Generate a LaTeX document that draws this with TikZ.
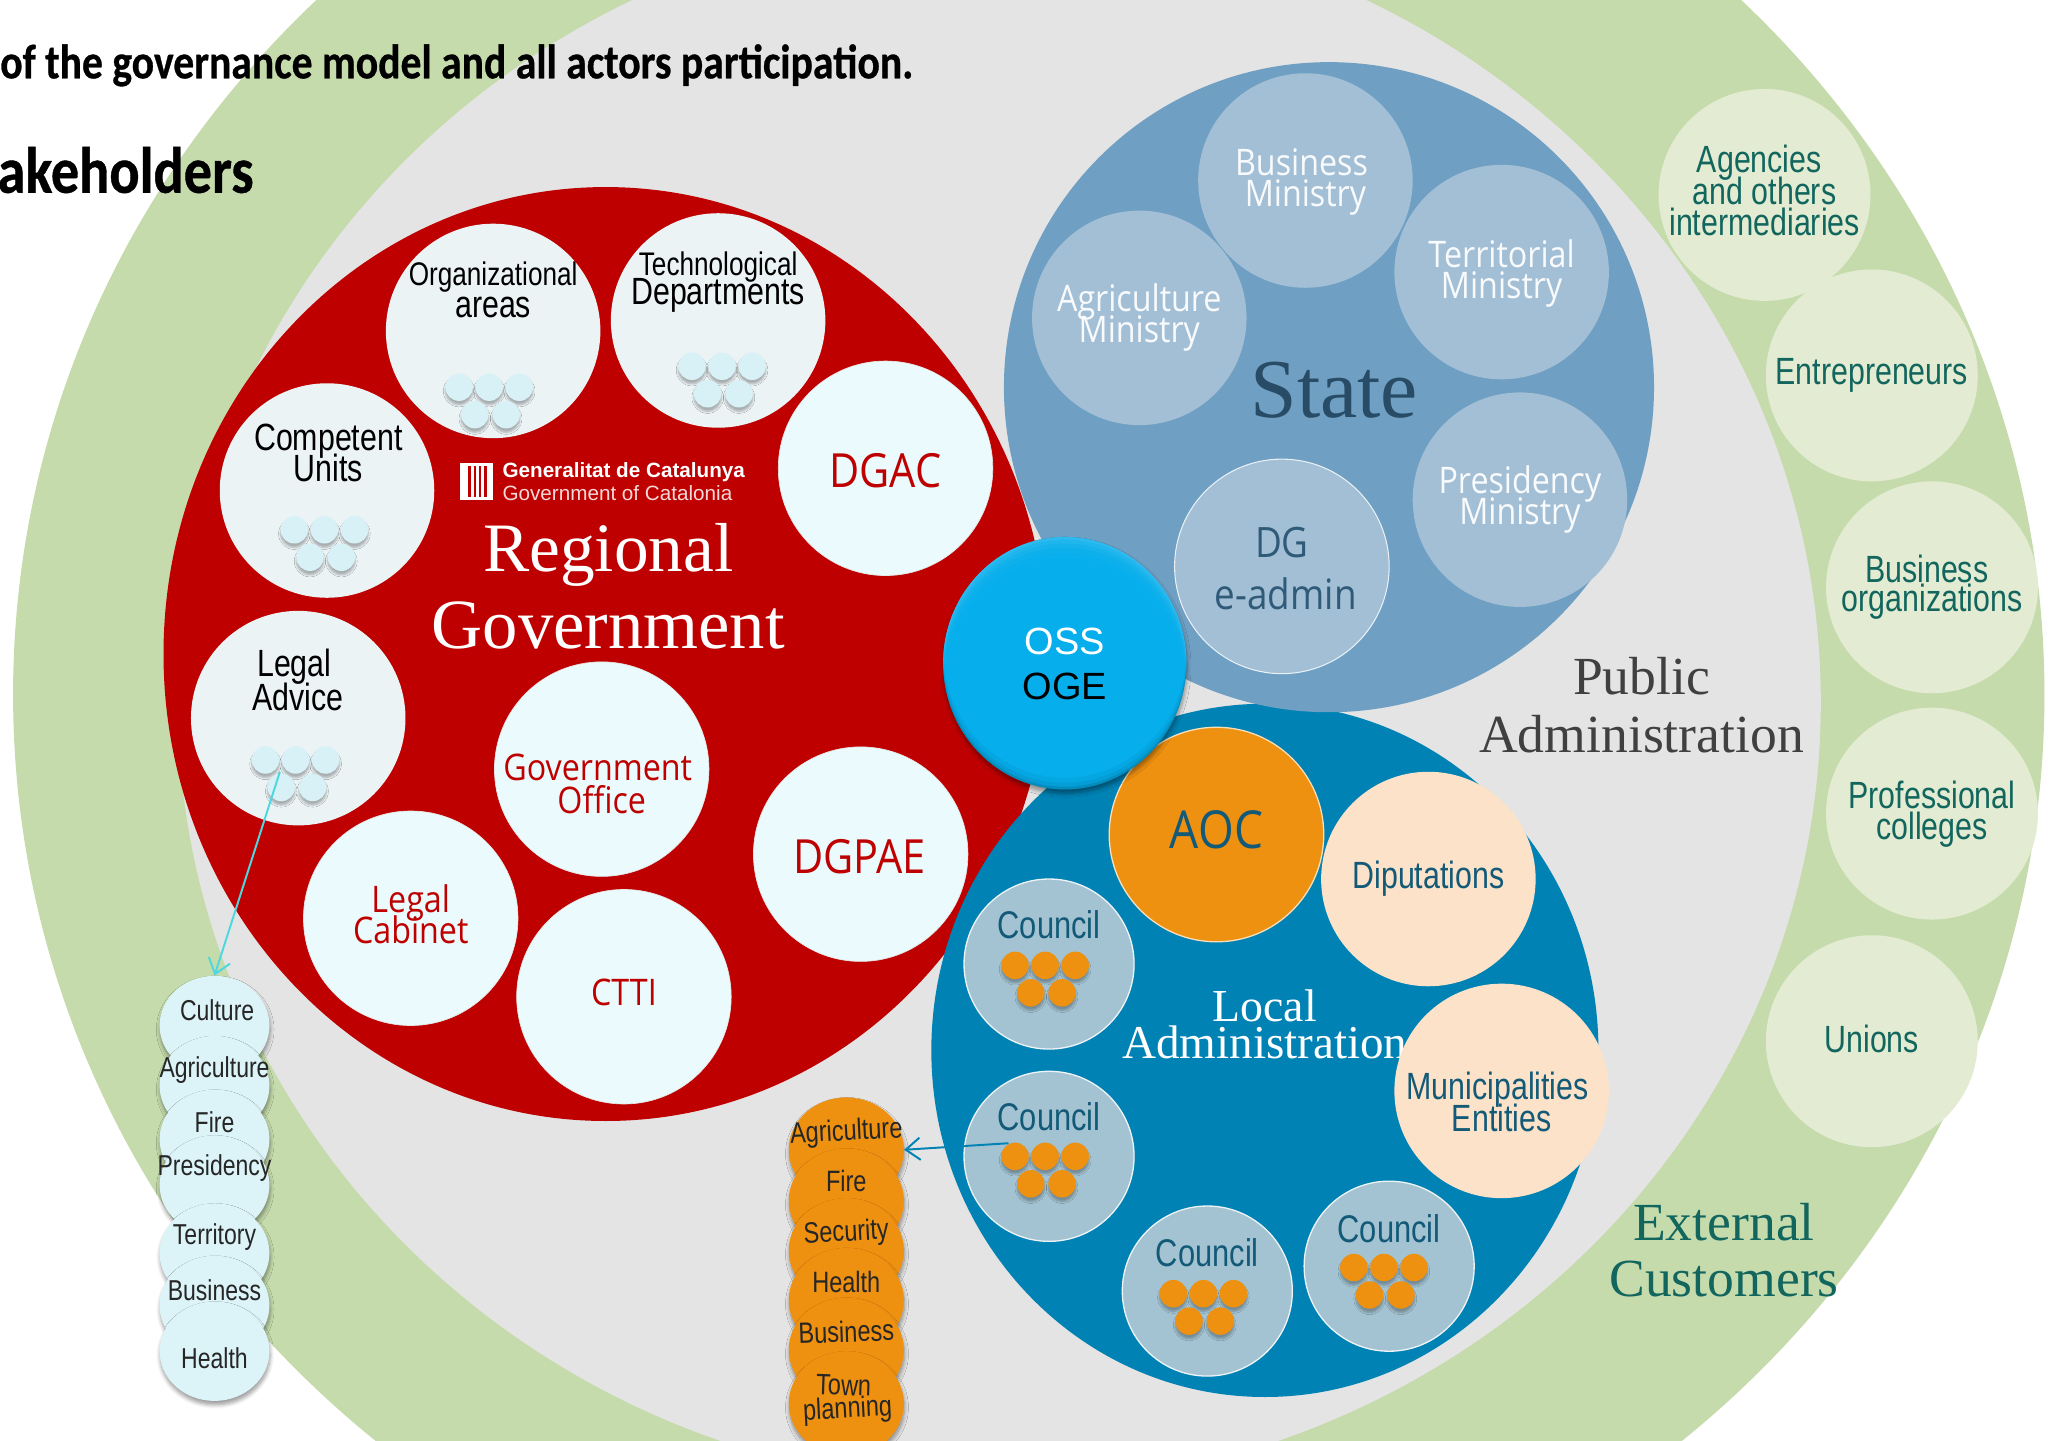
\documentclass[tikz,border=0pt]{standalone}
\usepackage{fontspec}
\usetikzlibrary{shapes.geometric,shadows,shadows.blur,arrows.meta}
\newfontfamily\nar[FakeStretch=0.8]{Liberation Sans}
\newfontfamily\plain{Liberation Sans}
\newfontfamily\opn[FakeStretch=0.88]{Open Sans}
\newfontfamily\srf{Liberation Serif}
\newfontfamily\ttl[FakeStretch=0.86,BoldFeatures={FakeBold=0.6}]{Carlito}
\newcommand\fs[1]{\fontsize{#1}{#1}\selectfont}
\definecolor{cGreen}{HTML}{C5DBAC}
\definecolor{cGreenIn}{HTML}{E3ECD2}
\definecolor{cGray}{HTML}{E4E4E4}
\definecolor{cRed}{HTML}{BF0000}
\definecolor{cPale}{HTML}{EBF3F5}
\definecolor{cIce}{HTML}{EBFAFC}
\definecolor{cState}{HTML}{6F9FC2}
\definecolor{cStateIn}{HTML}{A2BFD6}
\definecolor{cLocal}{HTML}{0082B4}
\definecolor{cCouncil}{HTML}{A3C3D2}
\definecolor{cOrange}{HTML}{EE9010}
\definecolor{cPeach}{HTML}{FBE2C8}
\definecolor{cDot}{HTML}{D8F1F6}
\definecolor{cStack}{HTML}{DCF4F8}
\definecolor{cOss}{HTML}{06AEEC}
\definecolor{cTeal}{HTML}{12665E}
\definecolor{cNavy}{HTML}{125A78}
\definecolor{cSlate}{HTML}{2F5A78}
\definecolor{cCyanArrow}{HTML}{4DD8E0}
\tikzset{
  x=1pt,y=-1pt,
  big/.style={ellipse,inner sep=0pt,draw=none},
  round/.style={circle,inner sep=0pt,minimum size=#1},
  round/.default=164pt,
  redpale/.style={round,fill=cPale},
  redice/.style={round,fill=cIce,draw=black!10,line width=.5pt},
  statein/.style={round,fill=cStateIn},
  councilc/.style={round=130pt,fill=cCouncil,draw=white!80!cCouncil,line width=1pt},
  extc/.style={round=162pt,fill=cGreenIn},
  softshadow/.style={blur shadow={shadow xshift=.5pt,shadow yshift=-3pt,shadow opacity=40,shadow blur steps=6,shadow blur radius=3pt}},
  dotshadow/.style={blur shadow={shadow xshift=0pt,shadow yshift=-3pt,shadow opacity=28,shadow blur steps=5,shadow blur radius=1.5pt}},
  sdotc/.style={round=21pt,fill=cDot,dotshadow},
  odotc/.style={round=21pt,fill=cOrange,dotshadow},
  stackc/.style={big,minimum width=84pt,minimum height=76pt,fill=cStack,softshadow},
  stacko/.style={big,minimum width=88pt,minimum height=80pt,fill=cOrange,softshadow},
  lblnar/.style={font=\nar\fs{#1},inner sep=0pt,align=center},
  lblopn/.style={font=\opn\fs{#1},inner sep=0pt,align=center},
  lblsrf/.style={font=\srf\fs{#1},inner sep=0pt,align=center},
  connector/.style={-{Straight Barb[length=11pt,width=17pt]},line width=1.5pt},
}
\newcommand\cluster[4]{% name, style, x, y
  \node[#2] (#1a) at (#3-23,#4) {};
  \node[#2] (#1b) at (#3,#4) {};
  \node[#2] (#1c) at (#3+23,#4) {};
  \node[#2] (#1d) at (#3-11,#4+21) {};
  \node[#2] (#1e) at (#3+13,#4+21) {};
}
\begin{document}
\begin{tikzpicture}
\useasboundingbox (0,0) rectangle (1568,1101);
\clip (0,0) rectangle (1568,1101);
% large backgrounds
\node[big,fill=cGreen,minimum width=1553pt,minimum height=1490pt] (external) at (786.5,531) {};
\node[big,fill=cGray,minimum width=1256pt,minimum height=1200pt] (public) at (764,537) {};
\node[big,fill=cRed,minimum width=676pt,minimum height=714pt] (regional) at (463,500) {};
\node[big,fill=cLocal,minimum width=510pt,minimum height=530pt] (localadm) at (967,803) {};
\node[big,fill=cState,minimum width=497pt,minimum height=497pt] (state) at (1016,296) {};
% title
\node[anchor=west,inner sep=0pt,font=\ttl\bfseries\fs{37}] (title1) at (0,50) {of the governance model and all actors participation.};
\node[anchor=west,inner sep=0pt,font=\ttl\bfseries\fs{50}] (title2) at (-2,130) {akeholders};
% regional
\node[redpale] (org) at (377,253) {};
\node[redpale] (tech) at (549,245) {};
\node[redpale] (comp) at (250,375) {};
\node[redpale] (legaladv) at (228,549) {};
\node[redice] (dgac) at (677,358) {};
\node[redice] (goff) at (460,588) {};
\node[redice] (dgpae) at (658,653) {};
\node[redice] (cab) at (314,702) {};
\node[redice] (ctti) at (477,762) {};
\cluster{orgd}{sdotc}{374}{296}
\cluster{techd}{sdotc}{552}{280}
\cluster{compd}{sdotc}{248}{405}
\cluster{legd}{sdotc}{226}{581}
\node[lblnar=25pt] (t1) at (377,212) {Organizational};
\node[lblnar=29pt] (t2) at (377,235) {areas};
\node[lblnar=25pt] (t3) at (549,204) {Technological};
\node[lblnar=29pt] (t4) at (549,226) {Departments};
\node[lblnar=29pt] (t5) at (251,337) {Competent};
\node[lblnar=29pt] (t6) at (251,358) {Units};
\node[lblnar=29pt] (t7) at (225,510) {Legal};
\node[lblnar=29pt] (t8) at (228,533) {Advice};
\node[lblopn=36pt,text=cRed] (t9) at (677,360) {DGAC};
\node[lblopn=28pt,text=cRed] (t10) at (457,587) {Government};
\node[lblopn=28pt,text=cRed] (t11) at (460,611) {Office};
\node[lblopn=36pt,text=cRed] (t12) at (657,655) {DGPAE};
\node[lblopn=28pt,text=cRed] (t13) at (314,690) {Legal};
\node[lblopn=28pt,text=cRed] (t14) at (314,711) {Cabinet};
\node[lblopn=28pt,text=cRed] (t15) at (477,759) {CTTI};
\node[lblsrf=53pt,text=white] (t16) at (465,424) {Regional};
\node[lblsrf=54pt,text=white] (t17) at (465,478) {Government};
% logo
\node[rectangle,fill=white,inner sep=0pt,minimum width=25pt,minimum height=28pt] (logo) at (364.5,368) {};
\foreach \lx in {358,362,366,370}
  \fill[cRed] (\lx,356) rectangle (\lx+2,380);
\node[anchor=west,inner sep=0pt,text=white,font=\plain\bfseries\fs{15.8}] (gen1) at (384,361) {Generalitat de Catalunya};
\node[anchor=west,inner sep=0pt,text=white!85!cRed,font=\plain\fs{15.8}] (gen2) at (384,377) {Government of Catalonia};
% state
\node[statein] (s1) at (998,138) {};
\node[statein] (s2) at (1148,208) {};
\node[statein] (s3) at (871,243) {};
\node[statein] (s4) at (1162,382) {};
\node[statein,draw=white!85!cState,line width=.8pt] (s5) at (980,433) {};
\node[lblopn=28pt,text=white!92!cStateIn] (t18) at (995,124) {Business};
\node[lblopn=28pt,text=white!92!cStateIn] (t19) at (998,151) {Ministry};
\node[lblopn=28pt,text=white!92!cStateIn] (t20) at (1148,194) {Territorial};
\node[lblopn=28pt,text=white!92!cStateIn] (t21) at (1148,221) {Ministry};
\node[lblopn=28pt,text=white!92!cStateIn] (t22) at (871,231) {Agriculture};
\node[lblopn=28pt,text=white!92!cStateIn] (t23) at (871,255) {Ministry};
\node[lblopn=28pt,text=white!92!cStateIn] (t24) at (1162,370) {Presidency};
\node[lblopn=28pt,text=white!92!cStateIn] (t25) at (1162,394) {Ministry};
\node[lblopn=32pt,text=cSlate] (t26) at (980,415) {DG};
\node[lblopn=32pt,text=cSlate] (t27) at (983,454) {e-admin};
\node[lblsrf=64pt,text=cSlate!85!black] (t28) at (1020,298) {State};
% public
\node[lblsrf=41pt,text=black!75] (t29) at (1255,517) {Public};
\node[lblsrf=41pt,text=black!75] (t30) at (1255,561) {Administration};
% local
\node[lblsrf=35pt,text=white] (t31) at (967,769) {Local};
\node[lblsrf=36pt,text=white] (t32) at (967,797) {Administration};
\node[round,fill=cOrange,draw=white!70!cOrange,line width=1pt] (aoc) at (930,638) {};
\node[round,fill=cPeach] (dip) at (1092,672) {};
\node[round,fill=cPeach] (muni) at (1148,834) {};
\node[councilc] (c1) at (802,737) {};
\node[councilc] (c2) at (802,884) {};
\node[councilc] (c3) at (923,987) {};
\node[councilc] (c4) at (1062,968) {};
\cluster{c1d}{odotc}{799}{738}
\cluster{c2d}{odotc}{799}{884}
\cluster{c3d}{odotc}{920}{989}
\cluster{c4d}{odotc}{1058}{969}
\node[lblopn=40pt,text=cNavy] (t33) at (930,634) {AOC};
\node[lblnar=29pt,text=cNavy] (t34) at (1092,672) {Diputations};
\node[lblnar=29pt,text=cNavy] (t35) at (1145,833) {Municipalities};
\node[lblnar=29pt,text=cNavy] (t36) at (1148,855) {Entities};
\node[lblnar=29.5pt,text=cNavy] (t37) at (802,707) {Council};
\node[lblnar=29.5pt,text=cNavy] (t38) at (802,854) {Council};
\node[lblnar=29.5pt,text=cNavy] (t39) at (923,958) {Council};
\node[lblnar=29.5pt,text=cNavy] (t40) at (1062,939) {Council};
% external
\node[extc] (e1) at (1349,149) {};
\node[extc] (e2) at (1431,287) {};
\node[extc] (e3) at (1477,449) {};
\node[extc] (e4) at (1477,622) {};
\node[extc] (e5) at (1431,796) {};
\node[lblnar=29pt,text=cTeal] (t41) at (1345,124) {Agencies};
\node[lblnar=29pt,text=cTeal] (t42) at (1349,146) {and others};
\node[lblnar=29pt,text=cTeal] (t43) at (1349,170) {intermediaries};
\node[lblnar=29pt,text=cTeal] (t44) at (1431,287) {Entrepreneurs};
\node[lblnar=29pt,text=cTeal] (t45) at (1473,435) {Business};
\node[lblnar=29pt,text=cTeal] (t46) at (1477,460) {organizations};
\node[lblnar=29pt,text=cTeal] (t47) at (1477,608) {Professional};
\node[lblnar=29pt,text=cTeal] (t48) at (1477,634) {colleges};
\node[lblnar=29pt,text=cTeal] (t49) at (1431,794) {Unions};
\node[lblsrf=41pt,text=cTeal] (t50) at (1318,934) {External};
\node[lblsrf=41pt,text=cTeal] (t51) at (1318,978) {Customers};
% OSS
\node[big,fill=cOss,minimum width=186pt,minimum height=193pt,softshadow] (oss) at (814,507) {};
\begin{scope}
  \clip (814,507) ellipse [x radius=93,y radius=96.5];
  \foreach \off/\op in {2/.35,5/.2,8/.12,12/.07,16/.05}
    \fill[cyan!70!white,opacity=\op,even odd rule] (814,507) ellipse [x radius=94,y radius=97.5]
       (814,507+\off) ellipse [x radius=93,y radius=96.5];
  \foreach \off/\op in {2/.18,5/.1,9/.06}
    \fill[black!60!cOss,opacity=\op,even odd rule] (814,507) ellipse [x radius=94,y radius=97.5]
       (814,507-\off) ellipse [x radius=93,y radius=96.5];
\end{scope}
\node[inner sep=0pt,text=white,font=\plain\fs{29}] (t52) at (814,490) {OSS};
\node[inner sep=0pt,text=black,font=\plain\fs{29}] (t53) at (814,525) {OGE};
% left stack
\node[stackc] (p1) at (164,784) {};
\node[stackc] (p2) at (164,830) {};
\node[stackc] (p3) at (164,871) {};
\node[stackc] (p4) at (164,906) {};
\node[stackc] (p5) at (164,958) {};
\node[stackc] (p6) at (164,998) {};
\node[stackc] (p7) at (164,1033) {};
\node[lblnar=22pt,text=black!85] (t54) at (166,772) {Culture};
\node[lblnar=22pt,text=black!85] (t55) at (164,818) {Agriculture};
\node[lblnar=22pt,text=black!85] (t56) at (164,858) {Fire};
\node[lblnar=22pt,text=black!85] (t57) at (164,893) {Presidency};
\node[lblnar=22pt,text=black!85] (t58) at (164,946) {Territory};
\node[lblnar=22pt,text=black!85] (t59) at (164,986) {Business};
\node[lblnar=22pt,text=black!85] (t60) at (164,1038) {Health};
% orange stack
\node[stacko] (q1) at (647,879) {};
\node[stacko] (q2) at (647,918) {};
\node[stacko] (q3) at (647,956) {};
\node[stacko] (q4) at (647,994) {};
\node[stacko] (q5) at (647,1032) {};
\node[stacko] (q6) at (647,1073) {};
\node[lblnar=22.5pt,text=black!85,rotate=3] (t61) at (647,866) {Agriculture};
\node[lblnar=22.5pt,text=black!85] (t62) at (647,903) {Fire};
\node[lblnar=22.5pt,text=black!85,rotate=3] (t63) at (647,943) {Security};
\node[lblnar=22.5pt,text=black!85] (t64) at (647,980) {Health};
\node[lblnar=22.5pt,text=black!85,rotate=2] (t65) at (647,1018) {Business};
\node[lblnar=22.5pt,text=black!85,rotate=-2] (t66) at (645,1059) {Town};
\node[lblnar=22.5pt,text=black!85,rotate=3] (t67) at (648,1078) {planning};
% connectors
\coordinate (legstart) at (214,590);
\coordinate (cstart) at (771,874);
\draw[connector,cCyanArrow] (legstart) -- (p1.north);
\draw[connector,cLocal] (cstart) -- (q1.east);
\end{tikzpicture}
\end{document}
